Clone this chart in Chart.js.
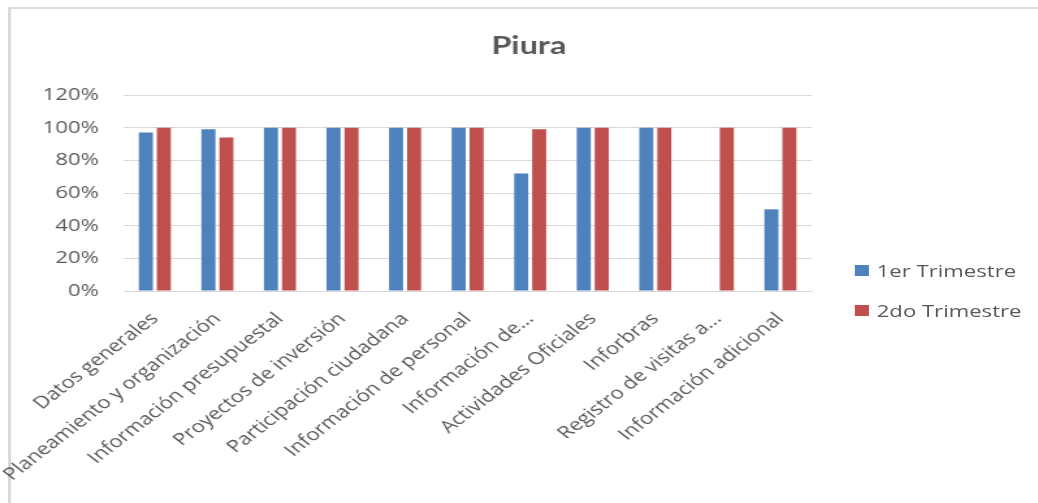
<!DOCTYPE html>
<html>
<head>
<meta charset="utf-8">
<script src="https://cdn.jsdelivr.net/npm/chart.js@4/dist/chart.umd.min.js"></script>
<style>
  html, body { margin: 0; padding: 0; background: #ffffff; overflow: hidden; }
  #frame { position: absolute; left: 8px; top: 7px; width: 1040px; height: 510px;
           border-top: 2px solid #dadada; border-left: 3px solid #dadada; box-sizing: border-box; }
  #wrap { position: absolute; left: 0; top: 0; width: 798px; height: 503px;
          transform: scaleX(1.300752); transform-origin: 0 0; }
  #c { position: absolute; left: 0; top: 0; }
  .leg { position: absolute; left: 657px; height: 24px; display: flex; align-items: center;
         font-family: 'Open Sans', sans-serif; font-size: 17px; color: #595959; white-space: nowrap; }
  .leg span.box { display: inline-block; width: 11px; height: 11px; margin-right: 6px; }
</style>
</head>
<body>
<div id="frame"></div>
<div id="wrap">
  <canvas id="c" width="798" height="503" style="width:798px;height:503px;"></canvas>
  <div id="legend"></div>
</div>
<script>
const title = "Piura";
const categories = [
  "Datos generales",
  "Planeamiento y organización",
  "Información presupuestal",
  "Proyectos de inversión",
  "Participación ciudadana",
  "Información de personal",
  "Información de...",
  "Actividades Oficiales",
  "Inforbras",
  "Registro de visitas a...",
  "Información adicional"
];
const seriesNames = ["1er Trimestre", "2do Trimestre"];
const trimestre1 = [97, 99, 100, 100, 100, 100, 72, 100, 100, 0, 50];
const trimestre2 = [100, 94, 100, 100, 100, 100, 99, 100, 100, 100, 100];
const seriesColors = ["#4F81BD", "#C0504D"];
const yTicks = [0, 20, 40, 60, 80, 100, 120];

const textColor = "#595959";
const gridColor = "#d9d9d9";

// HTML legend (inside the stretched wrapper)
const legendEl = document.getElementById("legend");
const legendTops = [258, 298];
seriesNames.forEach((name, i) => {
  const d = document.createElement("div");
  d.className = "leg";
  d.style.top = legendTops[i] + "px";
  const b = document.createElement("span");
  b.className = "box";
  b.style.background = seriesColors[i];
  d.appendChild(b);
  d.appendChild(document.createTextNode(name));
  legendEl.appendChild(d);
});

Chart.defaults.font.family = "'Open Sans', sans-serif";
Chart.defaults.color = textColor;

new Chart(document.getElementById("c"), {
  type: "bar",
  data: {
    labels: categories,
    datasets: [
      { label: seriesNames[0], data: trimestre1, backgroundColor: seriesColors[0],
        categoryPercentage: 0.575, barPercentage: 0.78 },
      { label: seriesNames[1], data: trimestre2, backgroundColor: seriesColors[1],
        categoryPercentage: 0.575, barPercentage: 0.78 }
    ]
  },
  options: {
    responsive: false,
    animation: false,
    devicePixelRatio: 1,
    layout: { padding: { left: 15, right: 0, top: 0, bottom: 0 } },
    plugins: {
      legend: { display: false },
      tooltip: { enabled: false },
      title: {
        display: true,
        text: title,
        color: textColor,
        font: { family: "Lato, 'Open Sans', sans-serif", size: 25, weight: "bold" },
        padding: { top: 31, bottom: 34 }
      }
    },
    scales: {
      x: {
        grid: { display: false, drawTicks: false },
        border: { display: true, color: gridColor, width: 1 },
        ticks: {
          autoSkip: false, maxRotation: 45, minRotation: 45, padding: 18,
          color: textColor, font: { size: 17 }
        },
        afterFit(scale) {
          scale.height = 212;
          scale.paddingLeft = 0;
          scale.paddingRight = 174;
        }
      },
      y: {
        min: 0, max: 120,
        grid: { color: gridColor, lineWidth: 1, drawTicks: false },
        border: { display: false },
        afterBuildTicks(scale) {
          scale.ticks = yTicks.map(v => ({ value: v }));
        },
        ticks: {
          padding: 19, color: textColor, font: { size: 17 },
          callback: (v) => v + "%"
        },
        afterFit(scale) { scale.width = 80; }
      }
    }
  }
});
</script>
</body>
</html>
